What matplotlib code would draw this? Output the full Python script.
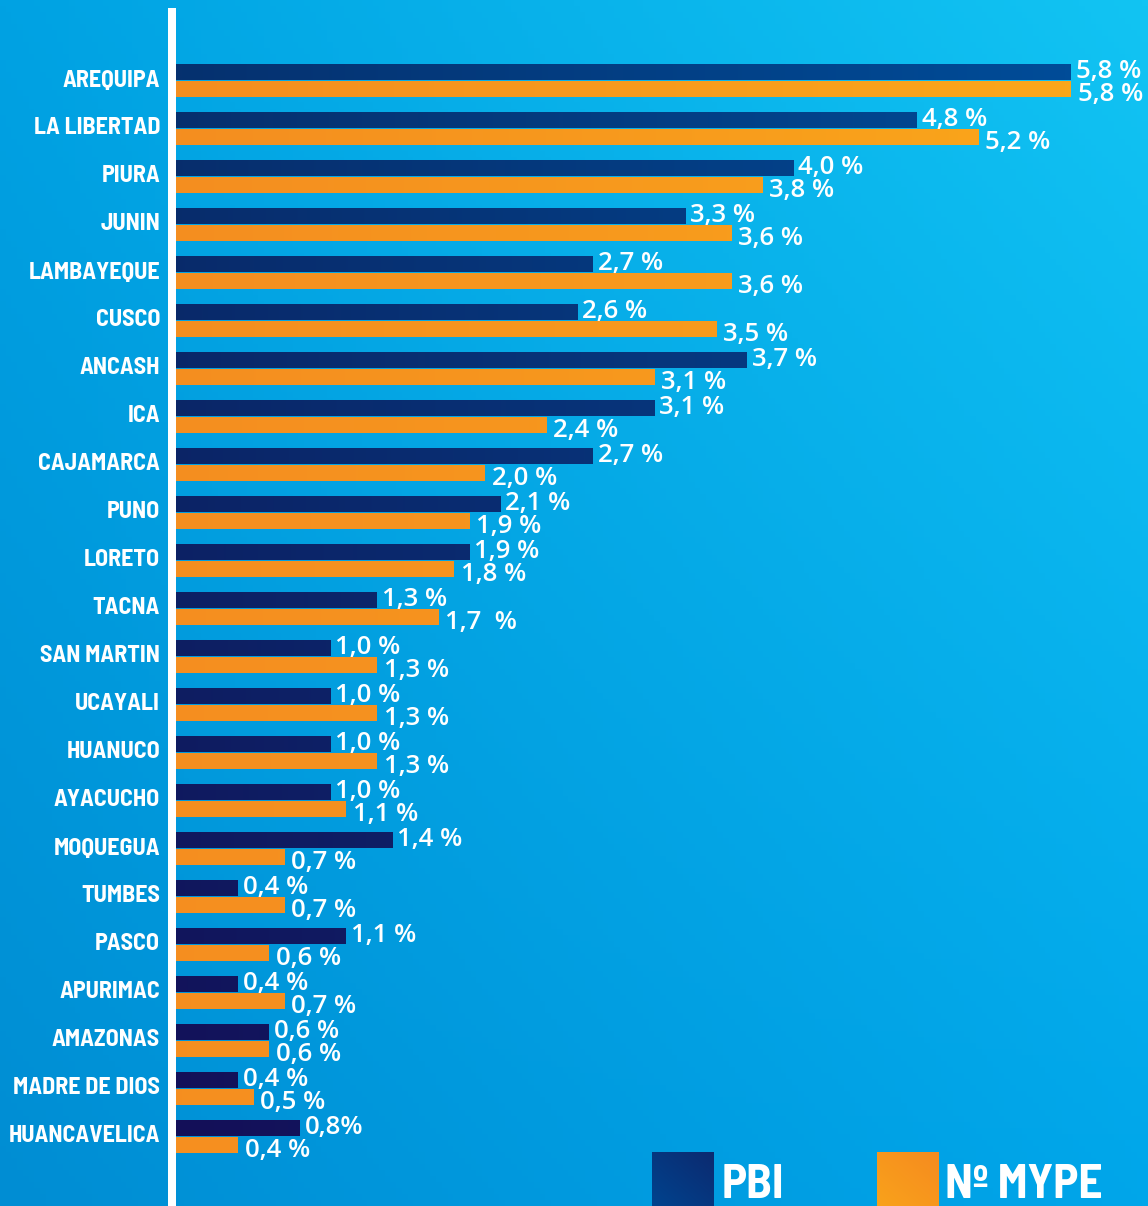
import numpy as np
import matplotlib
matplotlib.use('Agg')
import matplotlib.pyplot as plt
from matplotlib.patches import Rectangle
from matplotlib.colors import to_rgb

# data
regions = ['AREQUIPA', 'LA LIBERTAD', 'PIURA', 'JUNIN', 'LAMBAYEQUE', 'CUSCO',
           'ANCASH', 'ICA', 'CAJAMARCA', 'PUNO', 'LORETO', 'TACNA', 'SAN MARTIN',
           'UCAYALI', 'HUANUCO', 'AYACUCHO', 'MOQUEGUA', 'TUMBES', 'PASCO',
           'APURIMAC', 'AMAZONAS', 'MADRE DE DIOS', 'HUANCAVELICA']
pbi = [5.8, 4.8, 4.0, 3.3, 2.7, 2.6, 3.7, 3.1, 2.7, 2.1, 1.9, 1.3, 1.0,
       1.0, 1.0, 1.0, 1.4, 0.4, 1.1, 0.4, 0.6, 0.4, 0.8]
mype = [5.8, 5.2, 3.8, 3.6, 3.6, 3.5, 3.1, 2.4, 2.0, 1.9, 1.8, 1.7, 1.3,
        1.3, 1.3, 1.1, 0.7, 0.7, 0.6, 0.7, 0.6, 0.5, 0.4]
pbi_labels = ['5,8 %', '4,8 %', '4,0 %', '3,3 %', '2,7 %', '2,6 %', '3,7 %',
              '3,1 %', '2,7 %', '2,1 %', '1,9 %', '1,3 %', '1,0 %', '1,0 %',
              '1,0 %', '1,0 %', '1,4 %', '0,4 %', '1,1 %', '0,4 %', '0,6 %',
              '0,4 %', '0,8%']
mype_labels = ['5,8 %', '5,2 %', '3,8 %', '3,6 %', '3,6 %', '3,5 %', '3,1 %',
               '2,4 %', '2,0 %', '1,9 %', '1,8 %', '1,7  %', '1,3 %', '1,3 %',
               '1,3 %', '1,1 %', '0,7 %', '0,7 %', '0,6 %', '0,7 %', '0,6 %',
               '0,5 %', '0,4 %']

W, H = 1148, 1206
NARROW = ['Barlow Semi Condensed', 'Asap Condensed', 'DejaVu Sans']
LBL = ['Open Sans', 'DejaVu Sans']


def bilerp(corners, u, v):
    tl, tr, bl, br = [np.array(to_rgb(c)) for c in corners]
    u = u[..., None]
    v = v[..., None]
    top = tl * (1 - u) + tr * u
    bot = bl * (1 - u) + br * u
    return np.clip(top * (1 - v) + bot * v, 0, 1)


fig = plt.figure(figsize=(W / 100, H / 100), dpi=100)

# background gradient
bg = fig.add_axes([0, 0, 1, 1], zorder=-2)
uu, vv = np.meshgrid(np.linspace(0, 1, 200), np.linspace(0, 1, 200))
bg.imshow(bilerp(['#00a2e3', '#12c4f3', '#008dd3', '#00a6ea'], uu, vv),
          extent=(0, 1, 0, 1), aspect='auto', origin='upper')
bg.set_xlim(0, 1)
bg.set_ylim(0, 1)
bg.axis('off')

# white axis line
fig.add_artist(Rectangle((168 / W, 0), 8 / W, (H - 8) / H,
                         transform=fig.transFigure, color='white', lw=0))

ax = fig.add_axes([176 / W, 0, (W - 176) / W, 1])
ax.patch.set_visible(False)
for s in ax.spines.values():
    s.set_visible(False)

y = np.arange(len(regions))
step = 48.0  # pixels per category
navy_off, navy_h = -9 / step, 16 / step
org_off, org_h = 8.5 / step, 15.5 / step

navy_bars = ax.barh(y + navy_off, pbi, height=navy_h, color='#0a2a6c', zorder=2)
org_bars = ax.barh(y + org_off, mype, height=org_h, color='#f7931e', zorder=2)

navy_c = ['#06316f', '#004c98', '#140f58', '#0c2a70']
org_c = ['#f48e20', '#fba71a', '#f68f20', '#f7951d']
n = len(regions) - 1
for bars, cols in ((navy_bars, navy_c), (org_bars, org_c)):
    for i, p in enumerate(bars):
        w = p.get_width()
        xs = np.linspace(0, w, 80) / 5.8
        img = bilerp(cols, xs[None, :], np.full((1, 80), i / n))
        ax.imshow(img, extent=(0, w, p.get_y() + p.get_height(), p.get_y()),
                  aspect='auto', interpolation='bilinear', zorder=3)

for i in range(len(regions)):
    ax.annotate(pbi_labels[i], xy=(pbi[i], y[i] + navy_off), xytext=(5, -6),
                textcoords='offset pixels', ha='left', va='baseline',
                color='white', fontsize=18.5, fontweight='semibold', family=LBL,
                zorder=4)
    ax.annotate(mype_labels[i], xy=(mype[i], y[i] + org_off), xytext=(7, -11),
                textcoords='offset pixels', ha='left', va='baseline',
                color='white', fontsize=18.5, fontweight='semibold', family=LBL,
                zorder=4)

ax.set_yticks(y - 3 / step)
ax.set_yticklabels(regions, fontsize=17.3, fontweight='bold', family=NARROW,
                   color='white')
ax.tick_params(axis='y', length=0, pad=11.5)
ax.set_xticks([])
ax.set_xlim(0, (W - 176) / 154.3)
ax.set_ylim((H - 81) / step, -81 / step)

# legend
for x0, cols, txt, tx in ((652, ['#00438e', '#0c2a70'], 'PBI', 722),
                          (877, ['#f9a21b', '#f68b1f'], 'Nº MYPE', 945)):
    lg = fig.add_axes([x0 / W, 0, 62 / W, 54 / H], zorder=1)
    gu, gv = np.meshgrid(np.linspace(0, 1, 50), np.linspace(0, 1, 50))
    t = np.clip((gu + (1 - gv)) / 2, 0, 1)
    a, b = np.array(to_rgb(cols[0])), np.array(to_rgb(cols[1]))
    lg.imshow(a * (1 - t[..., None]) + b * t[..., None], aspect='auto',
              extent=(0, 1, 0, 1), origin='upper')
    lg.axis('off')
    fig.text(tx / W, 1 - 1198 / H, txt, color='white', fontsize=34,
             fontweight='bold', family=NARROW, va='baseline', ha='left')

fig.savefig('out.png', dpi=100)
